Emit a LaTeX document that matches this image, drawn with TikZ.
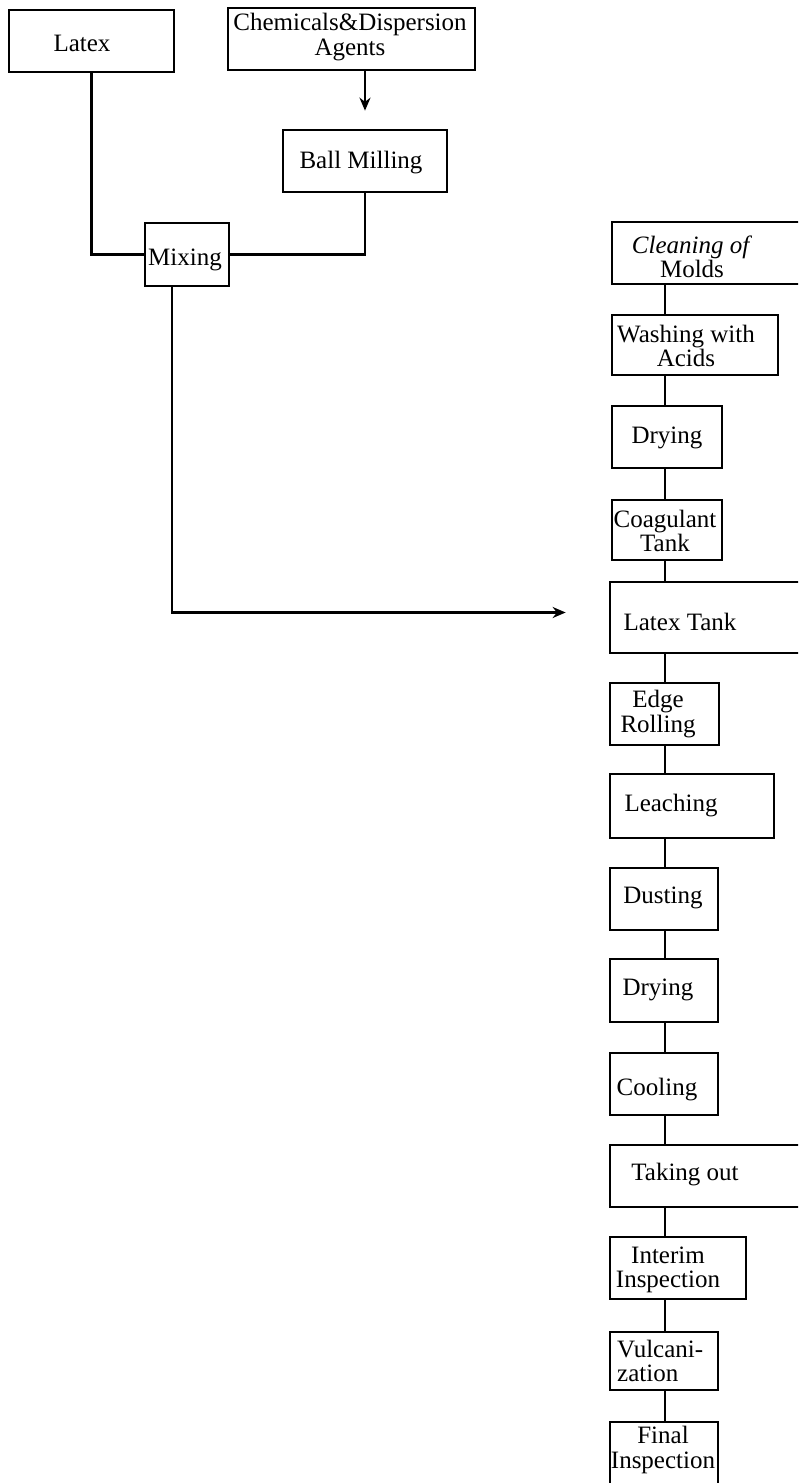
\documentclass[tikz,border=0pt]{standalone}
\usepackage{fontspec}
\setmainfont{Liberation Serif}
\usetikzlibrary{arrows.meta}
\begin{document}
\begin{tikzpicture}[x=1pt,y=-1pt,
  box/.style={draw, line width=2.7pt, inner sep=0pt},
  txt/.style={inner sep=0pt, align=center, font=\fontsize{25}{24.5}\selectfont},
  conn/.style={line width=2.7pt},
  arr/.style={conn, -{Stealth[length=13pt,width=11pt]}}]
\useasboundingbox (0,0) rectangle (798,1483);
\clip (0,0) rectangle (798,1483);
% left part
\node[box, minimum width=165pt, minimum height=62pt] (latex) at (91.5,41) {};
\node[txt] (latext) at (82,43) {Latex};
\node[box, minimum width=247pt, minimum height=62pt] (chem) at (351.5,39) {};
\node[txt] (chemt) at (350,37) {Chemicals\&Dispersion\\Agents};
\node[box, minimum width=164pt, minimum height=62pt] (ball) at (365,161) {};
\node[txt] (ballt) at (361,163) {Ball Milling};
\node[box, minimum width=84pt, minimum height=63pt] (mix) at (187,254.5) {};
\node[txt] (mixt) at (185,260) {Mixing};
% right column
\node[box, minimum width=228pt, minimum height=62pt] (cm) at (726,253) {};
\node[txt] (cmt) at (692,257) {\textit{Cleaning of}\\Molds};
\node[box, minimum width=166pt, minimum height=60pt] (wa) at (695,345) {};
\node[txt] (wat) at (686,346) {Washing with\\Acids};
\node[box, minimum width=110pt, minimum height=62pt] (dr1) at (667,437) {};
\node[txt] (dr1t) at (667,438) {Drying};
\node[box, minimum width=110pt, minimum height=60pt] (co) at (667,530) {};
\node[txt] (cot) at (665,531) {Coagulant\\Tank};
\node[box, minimum width=230pt, minimum height=71pt] (lt) at (725,617.5) {};
\node[txt] (ltt) at (680,622) {Latex Tank};
\node[box, minimum width=109pt, minimum height=62pt] (er) at (664.5,714) {};
\node[txt] (ert) at (658,714) {Edge\\Rolling};
\node[box, minimum width=164pt, minimum height=64pt] (le) at (692,806) {};
\node[txt] (let) at (671,806) {Leaching};
\node[box, minimum width=108pt, minimum height=62pt] (du) at (664,899) {};
\node[txt] (dut) at (663,898) {Dusting};
\node[box, minimum width=108pt, minimum height=63pt] (dr2) at (664,990.5) {};
\node[txt] (dr2t) at (658,990) {Drying};
\node[box, minimum width=108pt, minimum height=62pt] (cool) at (664,1084) {};
\node[txt] (coolt) at (657,1090) {Cooling};
\node[box, minimum width=230pt, minimum height=62pt] (to) at (725,1176) {};
\node[txt] (tot) at (685,1175) {Taking out};
\node[box, minimum width=136pt, minimum height=62pt] (ii) at (678,1268) {};
\node[txt] (iit) at (668,1270) {Interim\\Inspection};
\node[box, minimum width=108pt, minimum height=58pt] (vu) at (664,1361) {};
\node[txt, align=left, anchor=west] (vut) at (617,1361) {Vulcani-\\zation};
\node[box, minimum width=108pt, minimum height=80pt] (fi) at (664,1462) {};
\node[txt] (fit) at (663,1450) {Final\\Inspection};
% connectors
\coordinate (col) at (665,0);
\foreach \a/\b in {cm/wa, wa/dr1, dr1/co, co/lt, lt/er, er/le, le/du, du/dr2, dr2/cool, cool/to, to/ii, ii/vu, vu/fi}
  \draw[conn] (\a.south -| col) -- (\b.north -| col);
\draw[conn] (latex.south) |- (mix.west);
\draw[conn] (ball.south) |- (mix.east);
\draw[arr, shorten >=18pt] (chem.south -| ball) -- (ball.north);
\draw[arr, shorten >=43pt] ([xshift=-15pt]mix.south) |- ([yshift=5pt]lt.west);
\end{tikzpicture}
\end{document}
